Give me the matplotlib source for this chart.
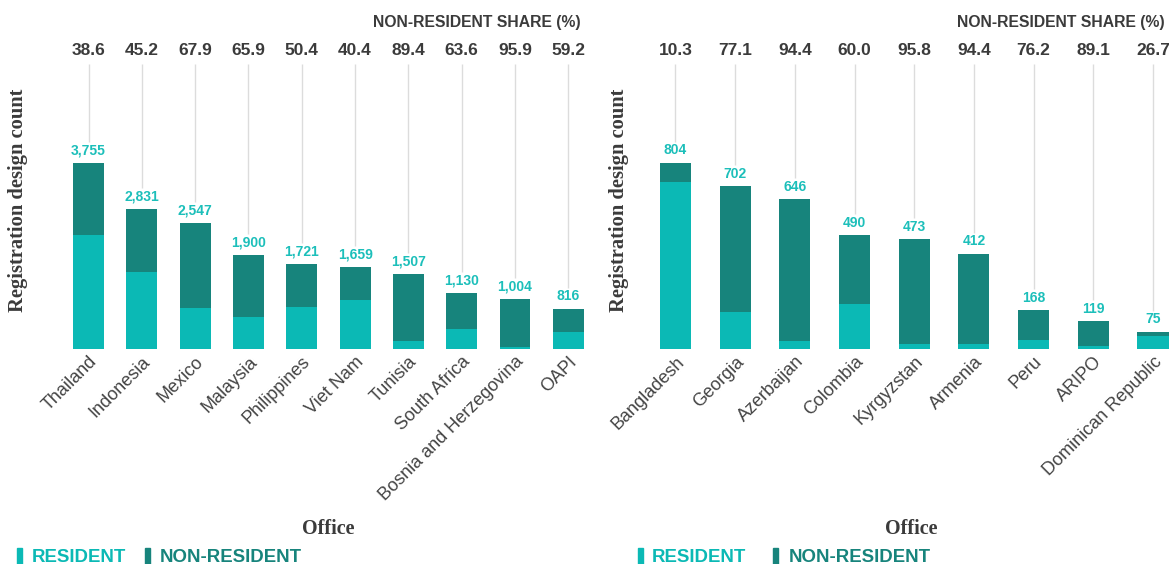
import numpy as np
import matplotlib.pyplot as plt
from matplotlib.patches import Rectangle

# left panel data
left_offices = ['Thailand', 'Indonesia', 'Mexico', 'Malaysia', 'Philippines', 'Viet Nam',
                'Tunisia', 'South Africa', 'Bosnia and Herzegovina', 'OAPI']
left_totals = [3755, 2831, 2547, 1900, 1721, 1659, 1507, 1130, 1004, 816]
left_share = [38.6, 45.2, 67.9, 65.9, 50.4, 40.4, 89.4, 63.6, 95.9, 59.2]

# right panel data
right_offices = ['Bangladesh', 'Georgia', 'Azerbaijan', 'Colombia', 'Kyrgyzstan', 'Armenia',
                 'Peru', 'ARIPO', 'Dominican Republic']
right_totals = [804, 702, 646, 490, 473, 412, 168, 119, 75]
right_share = [10.3, 77.1, 94.4, 60.0, 95.8, 94.4, 76.2, 89.1, 26.7]

RES_COLOR = '#0bb9b5'
NONRES_COLOR = '#17847c'
LABEL_COLOR = '#1cbfba'
TEXT_DARK = '#3b3b3b'
SANS = ['Liberation Sans', 'DejaVu Sans']
SERIF = ['Liberation Serif', 'DejaVu Serif']

W, H = 1169, 564
fig = plt.figure(figsize=(W / 100, H / 100), dpi=100)


def px_axes(x0, x1, ytop, ybot):
    return fig.add_axes([x0 / W, (H - ybot) / H, (x1 - x0) / W, (ybot - ytop) / H])


def draw_panel(ax, offices, totals, share, xmax, title_x):
    totals = np.array(totals, dtype=float)
    share = np.array(share)
    nonres = totals * share / 100.0
    res = totals - nonres
    x = np.arange(len(offices))
    top = totals.max() * 1.53
    ax.set_ylim(0, top)
    ax.set_xlim(-0.5, xmax)

    # grid lines from top down to just above the value labels
    ax.vlines(x, totals + top * 21 / 285, top, color='#dcdcdc', lw=1, zorder=0)

    width = 0.58 if len(offices) == 10 else 0.52
    ax.bar(x, res, width=width, color=RES_COLOR, zorder=2)
    ax.bar(x, nonres, width=width, bottom=res, color=NONRES_COLOR, zorder=2)

    for xi, t in zip(x, totals):
        ax.annotate(f'{int(t):,}', (xi, t), xytext=(0, 4), textcoords='offset points',
                    ha='center', va='bottom', color=LABEL_COLOR, fontsize=10,
                    fontweight='bold', family=SANS)
    for xi, s in zip(x, share):
        ax.annotate(f'{s:.1f}', (xi, 1), xycoords=('data', 'axes fraction'),
                    xytext=(0, 4), textcoords='offset points', ha='center', va='bottom',
                    color=TEXT_DARK, fontsize=12.5, fontweight='bold', family=SANS)

    fig.text(title_x / W, 1 - 23 / H, 'NON-RESIDENT SHARE (%)', ha='right', va='center',
             color=TEXT_DARK, fontsize=11.3, fontweight='bold', family=SANS)

    ax.set_xticks(x)
    ax.set_xticklabels(offices, rotation=45, ha='right', rotation_mode='anchor',
                       fontsize=13, color='#444444', family=SANS)
    ax.tick_params(axis='x', length=0, pad=3)
    ax.set_yticks([])
    for sp in ax.spines.values():
        sp.set_visible(False)
    ax.set_ylabel('Registration design count', family=SERIF, fontweight='bold',
                  fontsize=14.8, color=TEXT_DARK)
    ax.set_xlabel('Office', family=SERIF, fontweight='bold', fontsize=14.5, color=TEXT_DARK)


# left panel: bar centers at 88.5 + 53.3*i px
ax1 = px_axes(61.9, 595, 64, 349)
draw_panel(ax1, left_offices, left_totals, left_share, 9.5, 581)
ax1.yaxis.set_label_coords(-(61.9 - 28) / 533, (349 - 200) / 285)
ax1.xaxis.set_label_coords(0.5, -(519 - 349) / 285)

# right panel: bar centers at 675.5 + 59.7*i px
ax2 = px_axes(645.6, 1169, 64, 349)
draw_panel(ax2, right_offices, right_totals, right_share, 8 + (1169 - 1153) / 59.7, 1165)
ax2.yaxis.set_label_coords(-(645.6 - 629) / 523.4, (349 - 200) / 285)
ax2.xaxis.set_label_coords((911 - 645.6) / 523.4, -(519 - 349) / 285)


# legends
def legend(x_items):
    for (xm, xt, label, color) in x_items:
        fig.patches.append(Rectangle((xm / W, 0), 5 / W, 16 / H,
                                     transform=fig.transFigure, color=color))
        fig.text(xt / W, 1 - 557 / H, label, ha='left', va='center', color=color,
                 fontsize=13.4, fontweight='bold', family=SANS)


legend([(17, 32, 'RESIDENT', RES_COLOR), (145, 160, 'NON-RESIDENT', NONRES_COLOR)])
legend([(638, 652, 'RESIDENT', RES_COLOR), (773, 789, 'NON-RESIDENT', NONRES_COLOR)])

fig.savefig('out.png', dpi=100)
